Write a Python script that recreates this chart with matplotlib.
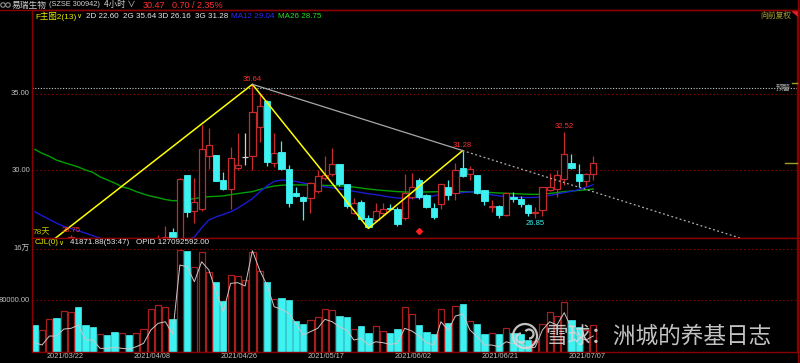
import matplotlib
matplotlib.use("Agg")
import matplotlib.pyplot as plt
import numpy as np
from matplotlib.lines import Line2D
from matplotlib.patches import Ellipse, Arc, Polygon

plt.rcParams["font.family"] = ["Liberation Sans", "Noto Sans CJK SC", "DejaVu Sans"]

W, H = 800, 363

# ---- data (one bar per entry) ----
OPEN = [25.00, 24.60, 24.90, 25.20, 24.70, 25.10, 25.40, 24.70, 24.30, 23.90,
        24.10, 23.70, 23.40, 23.70, 23.20, 23.60, 24.10, 24.80, 25.00, 25.92,
        25.20, 29.65, 27.32, 27.41, 30.92, 30.97, 29.34, 28.73, 30.11, 30.88,
        30.92, 32.85, 34.56, 30.44, 31.18, 30.07, 28.47, 28.24, 28.14, 28.64,
        29.50, 29.72, 30.38, 29.06, 27.19, 27.91, 26.86, 26.71, 27.15, 27.52,
        27.41, 26.82, 28.24, 29.34, 28.36, 27.48, 27.74, 28.86, 28.47, 30.15,
        29.74, 29.67, 28.68, 27.58, 27.63, 27.04, 28.24, 28.11, 27.70, 27.17,
        27.37, 28.68, 28.73, 29.39, 30.48, 29.76, 29.30, 29.72]
HIGH = [25.20, 25.10, 25.40, 25.30, 25.30, 25.75, 25.50, 24.90, 24.50, 24.30,
        24.20, 23.90, 23.90, 23.80, 23.80, 24.30, 25.00, 25.72, 26.32, 26.18,
        29.45, 29.70, 29.49, 32.96, 32.74, 31.00, 29.85, 31.53, 32.41, 32.45,
        35.64, 35.05, 34.60, 32.41, 31.91, 30.33, 28.90, 28.30, 29.20, 30.00,
        30.92, 31.43, 30.40, 29.10, 28.14, 28.00, 27.04, 27.81, 27.80, 27.75,
        27.59, 29.72, 29.78, 29.50, 28.40, 27.85, 29.10, 29.34, 30.44, 31.28,
        30.26, 29.70, 28.70, 28.03, 27.70, 28.50, 28.57, 28.30, 27.75, 27.59,
        28.90, 29.78, 30.00, 32.52, 31.05, 30.39, 29.80, 30.92]
LOW = [24.50, 24.40, 24.70, 24.60, 24.50, 24.90, 24.60, 24.20, 23.80, 23.70,
       23.60, 23.30, 23.30, 23.10, 23.10, 23.50, 23.90, 24.50, 24.90, 25.00,
       25.10, 26.93, 26.51, 27.30, 30.05, 29.25, 28.68, 27.41, 30.00, 30.30,
       30.00, 31.86, 30.26, 30.22, 30.00, 27.59, 28.25, 26.71, 27.19, 28.50,
       29.35, 29.60, 28.95, 27.48, 27.10, 26.70, 26.16, 26.60, 27.00, 27.35,
       26.35, 26.70, 28.10, 28.07, 27.50, 26.78, 27.41, 28.03, 28.03, 29.55,
       29.34, 28.40, 27.70, 27.26, 26.86, 26.95, 27.89, 27.60, 26.97, 26.85,
       26.97, 28.60, 28.20, 29.01, 30.05, 28.90, 28.95, 29.34]
CLOSE = [24.60, 24.90, 25.20, 24.70, 25.10, 25.62, 24.70, 24.30, 23.90, 24.10,
         23.70, 23.40, 23.70, 23.20, 23.60, 24.10, 24.80, 25.30, 25.60, 25.20,
         29.41, 27.26, 27.87, 31.38, 31.63, 29.30, 28.73, 30.81, 30.33, 30.88,
         33.84, 34.21, 30.53, 31.10, 30.05, 27.85, 28.31, 27.98, 29.13, 29.61,
         29.70, 30.38, 29.08, 27.63, 27.81, 26.78, 26.27, 27.30, 27.45, 27.41,
         26.43, 28.47, 28.86, 28.24, 27.59, 26.89, 29.06, 28.38, 29.98, 29.63,
         30.07, 28.47, 27.98, 27.63, 27.04, 28.47, 28.09, 27.74, 27.15, 27.22,
         28.86, 28.86, 29.67, 31.03, 30.11, 29.30, 29.72, 30.47]
VOLUME = [41500, 33700, 50400, 51900, 63300, 61800, 70000, 41000, 37900, 27000,
          25900, 30600, 29000, 25400, 29000, 35700, 66000, 72700, 70000, 50400,
          158400, 157400, 131400, 155300, 124600, 109000, 79400, 119500, 117900, 111700,
          155800, 126200, 109000, 81600, 83100, 80500, 47700, 43500, 48800, 54400,
          66000, 64400, 55500, 54000, 35200, 39900, 29500, 39500, 32600, 28500,
          34800, 69100, 58600, 41500, 31000, 27900, 66000, 44600, 70600, 73800,
          48200, 43000, 27900, 28500, 27000, 36300, 29000, 27000, 18000, 17000,
          42500, 61300, 55500, 77400, 49300, 38800, 33000, 41872]
VOL_LINE = [13900, 10300, 24300, 24300, 35200, 36300, 41500, 18100, 18100, 5100,
            5100, 6700, 5100, 4000, 7600, 13000, 33700, 44100, 46600, 27400,
            135000, 132400, 109000, 140200, 127300, 93400, 62200, 106500, 107500, 102300,
            157400, 127300, 103900, 70000, 66000, 59700, 44100, 25900, 31000, 36300,
            50400, 46600, 38800, 33700, 18100, 20700, 10300, 15400, 13900, 11400,
            13000, 36300, 32100, 24300, 13900, 10300, 46600, 33700, 55500, 58600,
            33700, 23200, 10300, 10300, 7600, 15400, 12000, 15000, 5000, 7000,
            33700, 46600, 41500, 60700, 36300, 22300, 18100, 24300]
MA12 = [27.26, 27.00, 26.75, 26.50, 26.30, 26.15, 26.00, 25.85, 25.68, 25.52,
        25.38, 25.22, 25.08, 24.95, 24.85, 24.78, 24.78, 24.85, 24.95, 25.08,
        25.25, 25.42, 25.60, 26.20, 26.72, 26.92, 27.08, 27.25, 27.50, 27.80,
        28.12, 28.55, 28.95, 29.25, 29.34, 29.32, 29.25, 29.15, 29.05, 28.97,
        28.90, 28.83, 28.75, 28.68, 28.60, 28.52, 28.44, 28.38, 28.30, 28.22,
        28.16, 28.14, 28.15, 28.18, 28.20, 28.30, 28.42, 28.45, 28.47, 28.52,
        28.56, 28.57, 28.48, 28.37, 28.30, 28.25, 28.22, 28.20, 28.19, 28.20,
        28.25, 28.33, 28.42, 28.52, 28.60, 28.72, 28.86, 29.04]
MA26 = [31.36, 31.10, 30.90, 30.65, 30.50, 30.35, 30.20, 30.00, 29.85, 29.55,
        29.35, 29.15, 28.90, 28.78, 28.58, 28.42, 28.28, 28.18, 28.06, 27.98,
        27.99, 28.05, 28.12, 28.20, 28.25, 28.27, 28.30, 28.38, 28.45, 28.52,
        28.58, 28.72, 28.85, 28.95, 29.00, 29.02, 29.02, 29.02, 29.02, 29.00,
        28.99, 28.98, 28.96, 28.93, 28.88, 28.82, 28.75, 28.70, 28.66, 28.62,
        28.58, 28.56, 28.54, 28.55, 28.56, 28.57, 28.58, 28.58, 28.58, 28.58,
        28.57, 28.56, 28.54, 28.52, 28.49, 28.47, 28.45, 28.43, 28.41, 28.40,
        28.42, 28.46, 28.52, 28.58, 28.62, 28.66, 28.70, 28.75]
ZIGZAG_IDX = [-5, 30, 46, 59]
ZIGZAG_VAL = [22.60, 35.64, 26.16, 31.28]
ALERT_LEVEL = 35.37
TICK_IDX = [4, 16, 28, 40, 52, 64, 76]
TICK_LABELS = ["2021/03/22", "2021/04/08", "2021/04/26", "2021/05/17",
               "2021/06/02", "2021/06/21", "2021/07/07"]

RED = "#c62a2a"
VRED = "#a81e1e"
CYAN = "#3ff2f2"
GRID = "#7a0000"
AXIS = "#8a0000"
LABEL = "#c0c0c0"


def fx(x):
    return x / W


def fy(y):
    return 1 - y / H


def main():
    o, hi, lo, c = map(np.array, (OPEN, HIGH, LOW, CLOSE))
    x = np.arange(len(c))
    up = c > o
    down = c < o
    flat = c == o

    fig = plt.figure(figsize=(W / 100, H / 100), dpi=100, facecolor="black")
    ax = fig.add_axes([fx(32), fy(238), fx(797) - fx(32), fy(10) - fy(238)])
    axv = fig.add_axes([fx(32), fy(352), fx(797) - fx(32), fy(238) - fy(352)])
    xmin, xmax = -0.39, 105.1

    for a in (ax, axv):
        a.set_facecolor("black")
        a.set_xlim(xmin, xmax)
        a.set_xticks([])
        a.set_yticks([])
        for s in a.spines.values():
            s.set_color(AXIS)
            s.set_linewidth(1.0)

    # ---- price panel ----
    ax.set_ylim(25.53, 40.53)
    for lv in (35.0, 30.0):
        ax.axhline(lv, color=GRID, lw=0.8, ls=(0, (1.5, 2)), zorder=1)
    ax.axhline(ALERT_LEVEL, color="#c8c8c8", lw=0.8, ls=(0, (1, 1.5)), zorder=1)

    ax.plot(x, MA26, color="#00a000", lw=1.0, zorder=2)
    ax.plot(x, MA12, color="#1a1ad0", lw=1.0, zorder=2)

    bw = 0.86
    ax.vlines(x[up], lo[up], hi[up], color=RED, lw=0.9, zorder=3)
    ax.bar(x[up], c[up] - o[up], bottom=o[up], width=bw, facecolor="black",
           edgecolor=RED, lw=0.9, zorder=4)
    ax.vlines(x[down], lo[down], hi[down], color=CYAN, lw=0.9, zorder=3)
    ax.bar(x[down], c[down] - o[down], bottom=o[down], width=bw, facecolor=CYAN,
           edgecolor=CYAN, lw=0.6, zorder=4)
    ax.vlines(x[flat], lo[flat], hi[flat], color="#d0d0d0", lw=0.9, zorder=3)
    ax.hlines(c[flat], x[flat] - bw / 2, x[flat] + bw / 2, color="#d0d0d0", lw=0.9, zorder=4)

    # zigzag and trend line
    ax.plot(ZIGZAG_IDX, ZIGZAG_VAL, color="#ffff00", lw=1.1, zorder=5)
    i0, i1 = ZIGZAG_IDX[1], ZIGZAG_IDX[3]
    v0, v1 = ZIGZAG_VAL[1], ZIGZAG_VAL[3]
    slope = (v1 - v0) / (i1 - i0)
    ax.plot([i0, i1], [v0, v1], color="#a8a8a8", lw=0.9, zorder=5)
    ax.plot([i1, xmax], [v1, v1 + slope * (xmax - i1)], color="#b0b0b0", lw=0.9,
            ls=(0, (1.5, 2)), zorder=5)

    # value labels
    lab = dict(fontsize=5.5, ha="center", zorder=6)
    ax.text(30, 35.64 + 0.12, "35.64", color="#ff3030", va="bottom", **lab)
    ax.text(59, 31.28 + 0.12, "31.28", color="#ff3030", va="bottom", **lab)
    ax.text(73, 32.52 + 0.12, "32.52", color="#ff3030", va="bottom", **lab)
    ax.text(69, 26.85 - 0.12, "26.85", color=CYAN, va="top", **lab)
    ax.text(5, 25.75 + 0.05, "25.75", color="#ff3030", va="bottom", **lab)
    ax.plot([53], [25.99], marker="D", color="#ff2020", markersize=3, zorder=6)

    # ---- volume panel ----
    axv.set_ylim(-600, 177200)
    axv.axhline(80000, color=GRID, lw=0.8, ls=(0, (1.5, 2)), zorder=1)
    axv.axhline(160000, color=GRID, lw=0.8, ls=(0, (1.5, 2)), zorder=1)
    vup = c >= o
    vol = np.array(VOLUME)
    axv.bar(x[vup], vol[vup], width=bw, facecolor="black", edgecolor=VRED, lw=0.9, zorder=2)
    axv.bar(x[~vup], vol[~vup], width=bw, facecolor=CYAN, edgecolor=CYAN, lw=0.5, zorder=2)
    axv.plot(x, VOL_LINE, color="#c8c8c8", lw=0.7, zorder=3)

    # ---- frame lines and axis labels ----
    fig.add_artist(Line2D([0, 1], [fy(10), fy(10)], color=AXIS, lw=1.0))
    fig.add_artist(Line2D([fx(798), fx(798)], [fy(0), fy(363)], color=AXIS, lw=1.0))
    fig.add_artist(Line2D([fx(792), fx(797)], [fy(83), fy(83)], color="#a0a020", lw=1.0))
    fig.add_artist(Line2D([fx(785), fx(797)], [fy(163), fy(163)], color="#a0a020", lw=1.0))
    fig.add_artist(Polygon([[fx(792), fy(11)], [fx(798), fy(11)], [fx(798), fy(16)]],
                           closed=True, color="#e02020"))

    num = dict(fontsize=5.5, color=LABEL, va="center")
    fig.text(fx(30), fy(93.5), "35.00", ha="right", **num)
    fig.text(fx(30), fy(170), "30.00", ha="right", **num)
    fig.text(fx(30), fy(249), "16万", ha="right", **num)
    fig.text(fx(30), fy(300.5), "80000.00", ha="right", **num)
    for idx, lab_txt in zip(TICK_IDX, TICK_LABELS):
        xp = 34.8 + 7.25 * idx + 1.5
        fig.text(fx(xp), fy(357), lab_txt, ha="center", va="center", fontsize=5.3, color=LABEL)

    # ---- header texts ----
    hd = dict(fontsize=5.8, va="center")
    fig.add_artist(Ellipse((fx(3), fy(5)), fx(4.5), 4.5 / H, fill=False, ec="#909090", lw=0.8))
    fig.add_artist(Ellipse((fx(8), fy(5)), fx(4.5), 4.5 / H, fill=False, ec="#909090", lw=0.8))
    fig.text(fx(12), fy(5), "易瑞生物", color="#d0d0d0", fontsize=6.3, va="center",
             family=["Noto Sans CJK SC"])
    fig.text(fx(49), fy(5), "(SZSE 300942)", color="#d0d0d0", fontsize=5.3, va="center")
    fig.text(fx(104), fy(5), "4小时 ∨", color="#d0d0d0", fontsize=6.0, va="center",
             family=["Noto Sans CJK SC", "DejaVu Sans"])
    fig.text(fx(143), fy(5), "30.47", color="#ff3030", fontsize=6.5, va="center")
    fig.text(fx(172), fy(5), "0.70 / 2.35%", color="#ff3030", fontsize=6.5, va="center")

    fig.text(fx(35), fy(16), "F主图2(13)", color="#e8e800", fontsize=6.0, va="center",
             family=["Liberation Sans", "Noto Sans CJK SC"])
    fig.text(fx(76), fy(16), "∨", color="#e8e800", fontsize=5, va="center", family=["DejaVu Sans"])
    fig.text(fx(86), fy(16), "2D 22.60", color="#e8e8e8", **hd)
    fig.text(fx(123), fy(16), "2G 35.64", color="#e8e8e8", **hd)
    fig.text(fx(158), fy(16), "3D 26.16", color="#e8e8e8", **hd)
    fig.text(fx(195), fy(16), "3G 31.28", color="#e8e8e8", **hd)
    fig.text(fx(231), fy(16), "MA12 29.04", color="#2a2aff", **hd)
    fig.text(fx(278), fy(16), "MA26 28.75", color="#22e022", **hd)
    fig.text(fx(791), fy(16), "向前复权", color="#a8a030", fontsize=5.6, va="center",
             ha="right", family=["Noto Sans CJK SC"])
    fig.text(fx(791), fy(88), "预警", color="#a0a0a0", fontsize=5.4, va="center",
             ha="right", family=["Noto Sans CJK SC"])
    fig.text(fx(33), fy(232.5), "78天", color="#c8c800", fontsize=6.0, va="center",
             family=["Liberation Sans", "Noto Sans CJK SC"])

    fig.text(fx(35), fy(243), "CJL(0)", color="#e8e800", **hd)
    fig.text(fx(58), fy(243), "∨", color="#e8e800", fontsize=5, va="center", family=["DejaVu Sans"])
    fig.text(fx(70), fy(243), "41871.88(53:47)   OPID 127092592.00", color="#e8e8e8", **hd)

    # ---- watermark ----
    wm = "#d8d8d8"
    fig.add_artist(Ellipse((fx(525), fy(336)), fx(24), 24 / H, fill=False, ec=wm, lw=1.6, alpha=0.9))
    fig.add_artist(Arc((fx(521), fy(338)), fx(9), 9 / H, theta1=90, theta2=300, ec=wm, lw=1.6, alpha=0.9))
    fig.add_artist(Arc((fx(529), fy(334)), fx(9), 9 / H, theta1=270, theta2=120, ec=wm, lw=1.6, alpha=0.9))
    fig.text(fx(545), fy(336.5), "雪球：洲城的养基日志", color=wm, fontsize=16.3, va="center",
             ha="left", family=["Noto Sans CJK SC"], alpha=0.9)

    fig.savefig("out.png", dpi=100, facecolor="black")
    plt.close(fig)


if __name__ == "__main__":
    main()
